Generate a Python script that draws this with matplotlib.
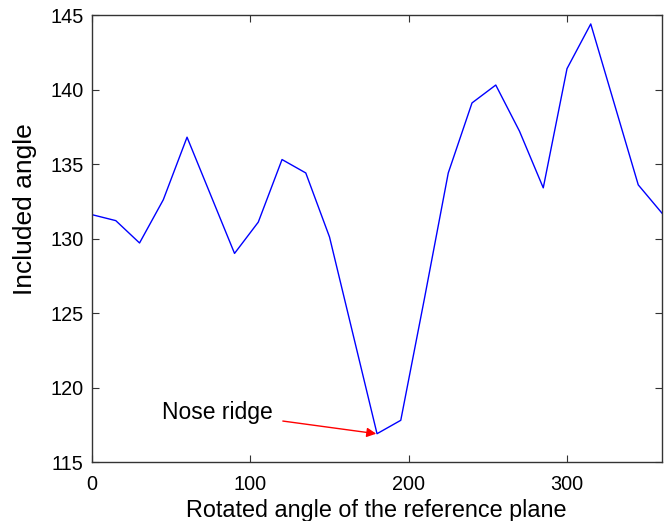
import numpy as np
import matplotlib
matplotlib.use('Agg')
import matplotlib.pyplot as plt

plt.rcParams['font.family'] = ['Liberation Sans', 'DejaVu Sans']

# rotated angle of the reference plane (deg) and included angle
rot_angle = [0, 15, 30, 45, 60, 75, 90, 105, 120, 135, 150, 165, 180,
             195, 210, 225, 240, 255, 270, 285, 300, 315, 330, 345, 360]
incl_angle = [131.6, 131.2, 129.7, 132.6, 136.8, 132.9, 129.0, 131.1, 135.3,
              134.4, 130.1, 123.5, 116.9, 117.8, 126.0, 134.4, 139.1, 140.3,
              137.2, 133.4, 141.4, 144.4, 139.0, 133.6, 131.7]

fig = plt.figure(figsize=(6.67, 5.21), dpi=100)
ax = fig.add_axes([0.138, 0.1132, 0.8545, 0.858])
ax.plot(rot_angle, incl_angle, color='#0000ff', lw=1.0)

# arrow to the minimum + its label
ax.annotate('', xy=(179.5, 116.9), xytext=(120.5, 117.75),
            arrowprops=dict(arrowstyle='-|>', color='red', lw=1.0,
                            mutation_scale=14, shrinkA=0, shrinkB=0))
ax.text(44, 118.35, 'Nose ridge', fontsize=16.5, ha='left', va='center')

ax.set_xlim(0, 360)
ax.set_ylim(115, 145)
ax.set_xticks([0, 100, 200, 300])
ax.set_yticks([115, 120, 125, 130, 135, 140, 145])
ax.tick_params(direction='in', length=5, top=True, right=True,
               labelsize=14.3, color='#333333', pad=6)
ax.tick_params(axis='x', pad=9)
for s in ax.spines.values():
    s.set_color('#333333')
    s.set_linewidth(1.0)
ax.set_xlabel('Rotated angle of the reference plane', fontsize=16.8, va='top')
ax.xaxis.set_label_coords(0.498, -0.083)
ax.set_ylabel('Included angle', fontsize=19)
ax.yaxis.set_label_coords(-0.097, 0.566)

fig.savefig('out.png', dpi=100)
